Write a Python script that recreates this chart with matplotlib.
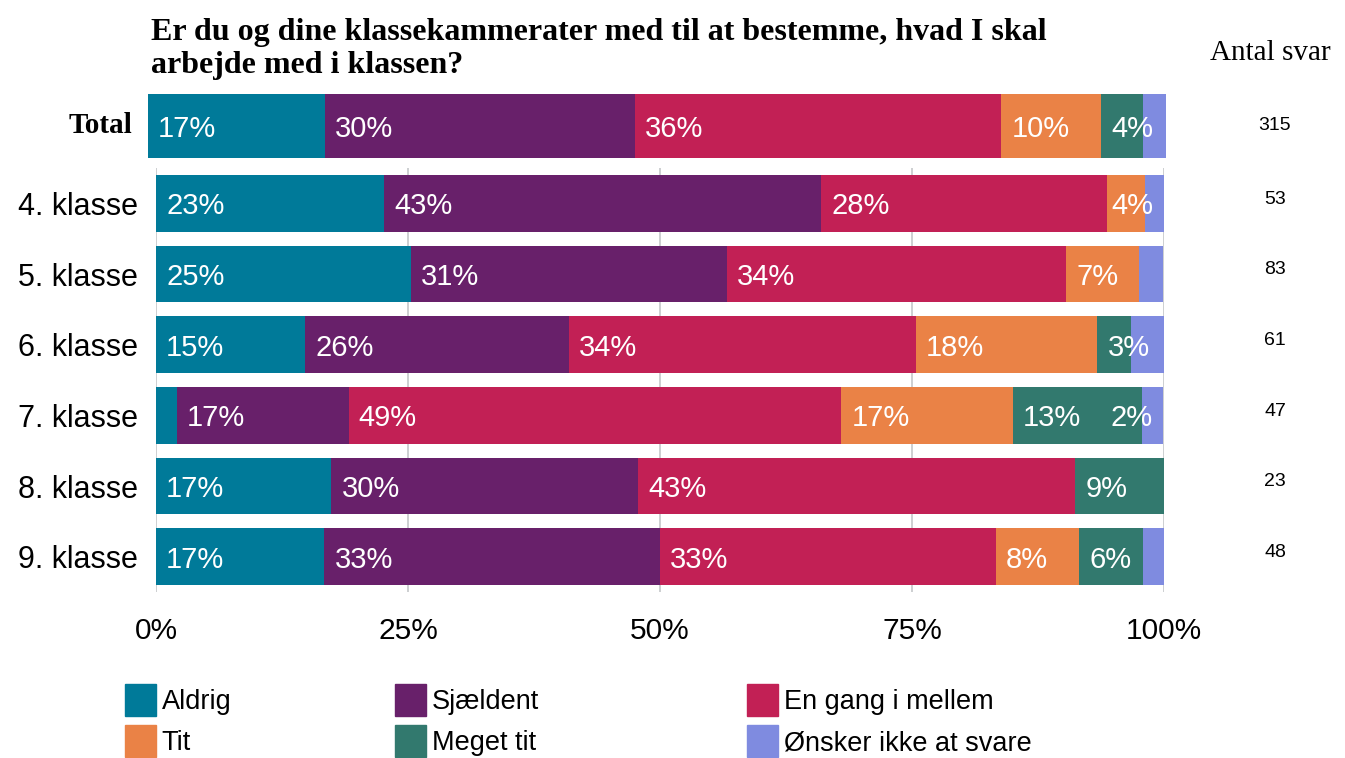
import matplotlib
matplotlib.use("Agg")
import matplotlib.pyplot as plt
from matplotlib.patches import Patch
from matplotlib.transforms import blended_transform_factory

plt.rcParams['font.family'] = ['Liberation Sans', 'DejaVu Sans']

# Data (share of answers in % per row)
title = "Er du og dine klassekammerater med til at bestemme, hvad I skal\narbejde med i klassen?"
answers = ['Aldrig', 'Sjældent', 'En gang i mellem', 'Tit', 'Meget tit', 'Ønsker ikke at svare']
colors = ['#007A99', '#68206A', '#C22055', '#EA8246', '#32796E', '#7F8BE0']

total_vals = [17.4, 30.4, 36.0, 9.8, 4.1, 2.3]
total_n = 315

classes = ['4. klasse', '5. klasse', '6. klasse', '7. klasse', '8. klasse', '9. klasse']
aldrig = [22.6, 25.3, 14.8, 2.1, 17.4, 16.7]
sjaeldent = [43.4, 31.3, 26.2, 17.0, 30.4, 33.3]
en_gang = [28.3, 33.7, 34.4, 48.9, 43.4, 33.3]
tit = [3.8, 7.2, 18.0, 17.0, 0.0, 8.3]
meget_tit = [0.0, 0.0, 3.3, 12.8, 8.8, 6.3]
oensker_ikke = [1.9, 2.4, 3.3, 2.1, 0.0, 2.1]
class_n = [53, 83, 61, 47, 23, 48]

series = [aldrig, sjaeldent, en_gang, tit, meget_tit, oensker_ikke]

W, H = 1345, 758
fig = plt.figure(figsize=(W / 100, H / 100), dpi=100)


def fx(px):
    return px / W


def fy(py):
    return 1 - py / H


ax_t = fig.add_axes([fx(148), fy(158), fx(1018), 64 / H])
ax = fig.add_axes([fx(156), fy(592), fx(1008), 424 / H])
ax_t.set_xlim(0, 100)
ax_t.set_ylim(-0.5, 0.5)
ax.set_xlim(0, 100)
ax.set_ylim(len(classes) - 0.5, -0.5)

fig.canvas.draw()
renderer = fig.canvas.get_renderer()


def label_row(a, y, vals):
    # labels start just inside each segment; small ones are pushed left
    # from the bar end and dropped where they would collide
    px_unit = a.transData.transform((1, 0))[0] - a.transData.transform((0, 0))[0]
    shown = []
    left = 0
    for v in vals:
        if v <= 0:
            continue
        t = a.text(0, y, f"{v:.0f}%", color='white', fontsize=21,
                   va='center_baseline', ha='left')
        w = t.get_window_extent(renderer).width / px_unit
        x = min(left + 1.0, 100 - 1.1 - w)
        t.set_x(x)
        left += v
        if shown and x < shown[-1][2]:
            if v > shown[-1][3]:
                shown[-1][0].remove()
                shown.pop()
            else:
                t.remove()
                continue
        shown.append([t, x, x + w, v])


# Total bar
left = 0
for v, c in zip(total_vals, colors):
    ax_t.barh(0, v, left=left, height=1.0, color=c)
    left += v
label_row(ax_t, 0, total_vals)
ax_t.set_xticks([])
ax_t.set_yticks([0.06])
ax_t.set_yticklabels(['Total'], fontfamily='Liberation Serif', fontweight='bold', fontsize=21)
ax_t.tick_params(axis='y', length=0, pad=11)
for s in ax_t.spines.values():
    s.set_visible(False)
tr_t = blended_transform_factory(ax_t.transAxes, ax_t.transData)
ax_t.text((1275 - 148) / 1018, 0, str(total_n), transform=tr_t, ha='center', va='center', fontsize=14)

# Class bars
lefts = [0] * len(classes)
for vals, c, name in zip(series, colors, answers):
    ax.barh(range(len(classes)), vals, left=lefts, height=0.8, color=c, label=name)
    lefts = [l + v for l, v in zip(lefts, vals)]
for i in range(len(classes)):
    label_row(ax, i, [s[i] for s in series])

ax.set_yticks(range(len(classes)))
ax.set_yticklabels(classes, fontsize=22)
ax.set_xticks([0, 25, 50, 75, 100])
ax.set_xticklabels(['0%', '25%', '50%', '75%', '100%'], fontsize=21.5)
ax.tick_params(axis='y', length=0, pad=13)
ax.tick_params(axis='x', length=0, pad=18)
ax.set_axisbelow(True)
ax.xaxis.grid(True, color='#c9cbce', lw=1.3)
for s in ax.spines.values():
    s.set_visible(False)
tr = blended_transform_factory(ax.transAxes, ax.transData)
for i, n in enumerate(class_n):
    ax.text((1275 - 156) / 1008, i - 0.06, str(n), transform=tr, ha='center', va='center', fontsize=14)

# Title and column header
fig.text(fx(151), fy(18), title, ha='left', va='top', fontfamily='Liberation Serif',
         fontweight='bold', fontsize=23, linespacing=1.2)
fig.text(fx(1270), fy(53), 'Antal svar', ha='center', va='center',
         fontfamily='Liberation Serif', fontsize=21)

# Legend, three columns
col_x = [125, 395, 747]
for k, x in enumerate(col_x):
    handles = [Patch(color=colors[k]), Patch(color=colors[k + 3])]
    labels = [answers[k], answers[k + 3]]
    fig.legend(handles, labels, loc='upper left', bbox_to_anchor=(fx(x), fy(684)),
               frameon=False, fontsize=19.5, borderpad=0, borderaxespad=0,
               handlelength=1.15, handleheight=1.45, handletextpad=0.2, labelspacing=0.33)

fig.savefig('out.png', dpi=100)
